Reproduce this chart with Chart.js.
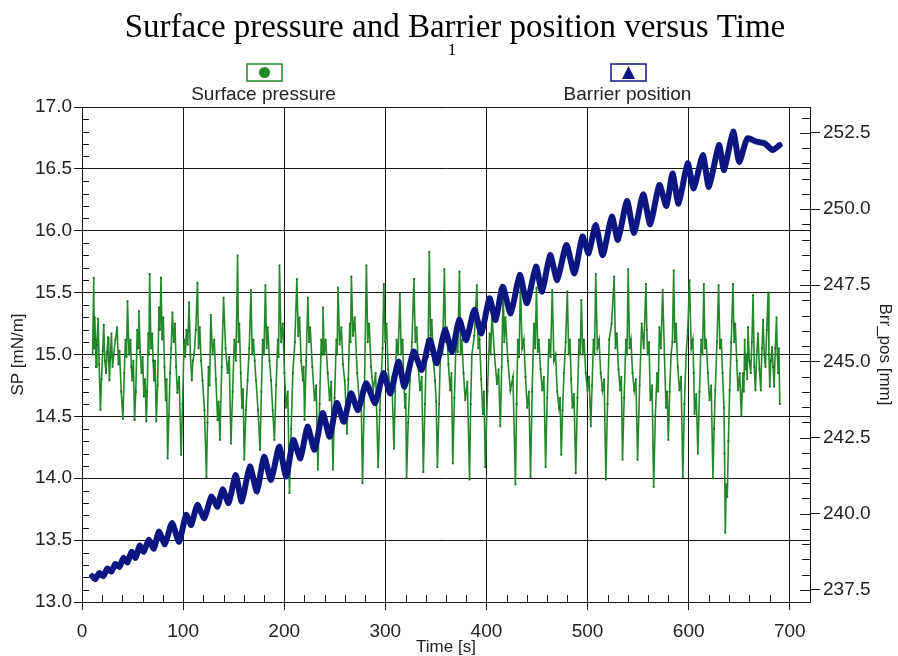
<!DOCTYPE html>
<html>
<head>
<meta charset="utf-8">
<title>Surface pressure and Barrier position versus Time</title>
<script src="https://cdn.jsdelivr.net/npm/chart.js@4.4.1/dist/chart.umd.min.js"></script>
<style>
  html, body { margin: 0; padding: 0; background: #fff; }
  canvas { display: block; }
</style>
</head>
<body>
<canvas id="chart" width="898" height="656"></canvas>
<script>
// texts
const titleText = 'Surface pressure and Barrier position versus Time';
const subtitleText = '1';
const spLabel = 'Surface pressure';
const brrLabel = 'Barrier position';

// tick labels
const timeTicks = [0, 100, 200, 300, 400, 500, 600, 700];
const spTicks = [13.0, 13.5, 14.0, 14.5, 15.0, 15.5, 16.0, 16.5, 17.0];
const brrTicks = [237.5, 240.0, 242.5, 245.0, 247.5, 250.0, 252.5];

// surface pressure [mN/m]
const spTime = [
  10.5, 11.6, 12.1, 12.6, 13.3, 13.9, 14.8, 15.9, 17.0, 18.2,
  19.3, 20.5, 21.5, 22.6, 23.8, 24.8, 25.8, 26.5, 27.1, 28.1,
  29.1, 30.2, 31.4, 33.0, 34.8, 36.0, 37.1, 38.8, 40.4, 41.8,
  43.0, 44.0, 45.0, 46.5, 48.0, 48.8, 49.7, 50.8, 52.0, 53.2,
  54.6, 55.4, 56.3, 57.6, 58.9, 60.0, 61.2, 62.4, 63.6, 64.5,
  65.5, 66.2, 66.9, 68.2, 69.5, 70.3, 71.2, 72.3, 73.5, 74.8,
  76.1, 77.1, 78.1, 79.2, 80.4, 81.6, 82.8, 83.7, 84.7, 85.9,
  87.1, 88.2, 89.4, 90.7, 92.0, 93.1, 94.3, 96.1, 98.0, 99.5,
  101.0, 102.1, 103.3, 104.6, 105.9, 107.2, 108.6, 109.7, 110.9, 112.5,
  114.2, 115.3, 116.5, 117.8, 119.2, 121.1, 123.1, 124.1, 125.1, 126.2,
  127.4, 129.1, 130.8, 132.4, 134.1, 135.2, 136.4,
  138.2, 140.0, 142.0, 144.0, 145.6, 147.3, 149.0, 150.6, 152.2, 153.9,
  154.8, 155.6, 157.0, 158.2, 159.3, 160.5, 162.1, 163.8, 165.4, 167.1,
  168.3, 169.5, 170.8, 172.1, 174.1, 176.1, 177.4, 178.7, 180.0, 181.4,
  182.6, 183.7, 185.4, 187.0, 188.6, 190.3, 192.0, 193.6, 194.4, 195.3,
  196.9, 198.6, 200.2, 201.9, 203.5, 205.2, 206.9, 208.5, 210.5, 212.5,
  213.8, 215.1, 216.8, 218.4, 219.2, 220.1, 221.7, 223.4, 224.5, 225.7,
  227.8, 230.0, 231.6, 233.3, 235.0, 236.6, 237.4, 238.3, 239.6, 241.0,
  243.0, 244.9, 246.5, 248.2, 249.8, 251.5, 252.3, 253.2, 254.8, 256.5,
  258.1, 259.8, 260.9, 262.1, 263.4, 264.8, 265.6, 266.4, 268.0, 269.7,
  272.2, 274.7, 276.0, 277.4, 279.3,
  281.3, 282.6, 284.0, 285.9, 287.9, 290.4, 292.9, 294.5, 296.2, 297.3,
  298.5, 299.8, 301.2, 302.8, 304.5, 306.5, 308.5, 309.8, 311.1, 312.7,
  314.4, 315.7, 317.1, 318.2, 319.4, 320.2, 321.0, 322.6, 324.3, 326.3,
  328.3, 329.6, 331.0, 332.6, 334.3, 336.0, 337.6, 339.2, 340.9, 342.2,
  343.5, 344.7, 345.9, 347.5, 349.2, 350.3, 351.5, 353.2, 354.8, 356.6,
  358.4, 359.6, 360.8, 362.4, 364.1, 365.4, 366.7, 368.3, 370.0, 371.6,
  373.3, 374.4, 375.6, 377.3, 379.0, 381.1, 383.3, 384.4, 385.6, 388.0,
  390.5, 391.8, 393.2, 394.8, 396.5, 397.6, 398.8, 401.0, 403.1, 404.2,
  405.4, 407.9, 410.4, 412.0, 413.7, 415.1,
  416.5, 417.6, 418.8, 421.2, 423.7, 426.2, 428.7, 429.8, 431.0, 432.3,
  433.6, 435.3, 437.0, 438.6, 440.3, 442.0, 443.6, 445.2, 446.9, 448.2,
  449.5, 450.7, 451.9, 453.5, 455.2, 456.8, 458.5, 460.1, 461.8, 463.4,
  465.1, 466.7, 468.4, 470.0, 471.7, 472.8, 474.0, 475.3, 476.7, 478.3,
  480.0, 481.3, 482.6, 483.8, 485.0, 486.6, 488.3, 490.0, 491.6, 492.7,
  493.9, 495.2, 496.5, 498.2, 499.9, 501.5, 503.2, 504.5, 505.8, 506.9,
  508.1, 509.7, 511.4, 513.0, 514.7, 516.4, 518.1, 519.7, 521.4, 523.8,
  526.3, 527.6, 529.0, 530.6, 532.3, 533.4, 534.6, 536.2, 537.9, 539.0,
  540.2, 541.5, 542.9, 544.5, 546.2, 547.8, 549.5, 551.5, 553.5, 555.6,
  557.8, 558.6, 559.4, 560.8, 562.1, 563.8, 565.4, 567.0, 568.7, 569.9,
  571.0, 572.6, 574.3, 576.0, 577.6, 578.7, 579.9, 581.2, 582.6, 583.9,
  585.2, 586.3, 587.5, 589.2, 590.9, 592.5, 594.2, 595.8, 597.5, 599.1,
  600.8, 602.5, 604.1, 605.0, 605.8, 607.5, 609.1, 610.7, 612.4, 613.7,
  615.0, 616.1, 617.3, 619.0, 620.6, 622.3, 624.0, 625.1, 626.3, 628.0,
  629.6, 630.9, 632.2, 633.5, 634.9, 635.5, 636.2, 637.2, 638.2, 639.3,
  640.5, 642.1, 643.8, 645.0, 646.1, 647.5, 648.8, 650.5, 652.1, 653.7,
  654.6, 655.4, 656.2, 657.1, 657.9, 658.7, 660.0, 661.4, 662.5, 663.7,
  664.9, 666.0, 667.3, 668.6, 670.0, 671.3, 672.5, 673.6, 674.8, 675.9,
  677.2, 678.6, 679.4, 680.2, 681.3, 682.5, 683.5, 684.5, 685.7, 686.9,
  687.7, 688.5, 689.3, 690.1
];
const spValue = [
  15.00, 15.62, 15.05, 15.30, 15.12, 14.90, 15.08, 15.29, 14.92, 14.55,
  14.80, 15.03, 15.24, 14.95, 14.85, 15.02, 15.14, 14.95, 14.79, 14.98,
  15.17, 14.90, 15.00, 15.12, 15.22, 14.92, 15.03, 14.70, 14.48, 14.85,
  15.12, 14.98, 15.43, 15.00, 15.12, 14.90, 14.79, 14.95, 14.47, 14.70,
  15.20, 15.05, 15.35, 15.02, 14.85, 14.98, 14.66, 14.80, 14.46, 14.70,
  15.17, 15.00, 15.65, 15.05, 15.17, 14.95, 14.79, 14.95, 14.46, 14.75,
  15.38, 15.20, 15.62, 15.12, 15.30, 14.90, 14.63, 14.80, 14.16, 14.50,
  14.85, 15.05, 15.34, 15.10, 15.25, 14.90, 14.69, 14.82, 14.19, 14.60,
  15.12, 14.98, 15.20, 15.08, 15.42, 15.00, 14.79, 14.95, 15.00, 15.20,
  15.58, 15.05, 15.22, 14.95, 14.79, 14.55, 14.01, 14.45, 14.90, 14.75,
  15.32, 15.00, 15.12, 14.80, 14.47, 14.62, 14.31,
  14.90, 15.46, 15.05, 14.85, 14.98, 14.28, 14.70, 15.12, 14.95, 15.80,
  15.10, 15.25, 14.85, 14.57, 14.72, 14.15, 14.55, 14.79, 15.05, 15.52,
  15.00, 15.12, 14.95, 14.79, 14.55, 14.23, 14.70, 15.12, 15.00, 15.56,
  15.05, 15.22, 14.95, 14.79, 14.55, 14.31, 14.75, 15.12, 14.98, 15.72,
  15.10, 15.25, 14.85, 14.57, 14.70, 13.88, 14.40, 14.85, 15.10, 15.61,
  15.15, 15.30, 14.95, 14.79, 14.90, 14.47, 14.95, 15.46, 15.10, 15.22,
  14.90, 14.63, 14.75, 14.07, 14.60, 15.12, 15.00, 15.38, 15.00, 15.12,
  14.85, 14.63, 14.78, 14.07, 14.65, 15.12, 15.00, 15.54, 15.08, 15.22,
  14.92, 14.79, 14.62, 14.36, 14.80, 15.25, 15.10, 15.63, 15.15, 15.30,
  14.85, 14.57, 14.70, 13.96, 14.70,
  15.72, 15.10, 15.25, 14.90, 14.71, 14.85, 14.09, 14.55, 14.85, 15.05,
  15.57, 15.10, 15.25, 14.88, 14.71, 14.80, 14.24, 14.70, 15.12, 15.00,
  15.49, 15.00, 15.12, 14.80, 14.57, 14.68, 14.00, 14.45, 14.79, 15.10,
  15.61, 15.10, 15.22, 14.90, 14.71, 14.82, 14.05, 14.60, 15.12, 14.98,
  15.83, 15.15, 15.28, 14.95, 14.79, 14.62, 14.09, 14.60, 15.12, 15.00,
  15.69, 15.10, 15.22, 14.92, 14.71, 14.85, 14.12, 14.65, 15.12, 15.02,
  15.67, 15.00, 15.12, 14.85, 14.63, 14.78, 13.99, 14.60, 15.00, 15.15,
  15.56, 15.05, 15.12, 14.80, 14.52, 14.70, 14.09, 14.70, 15.17, 15.00,
  15.34, 15.00, 14.76, 14.88, 14.42, 14.90,
  15.55, 15.10, 15.30, 14.95, 14.71, 14.82, 13.95, 14.60, 15.12, 14.98,
  15.57, 15.05, 15.12, 14.82, 14.57, 14.70, 14.01, 14.70, 15.25, 15.05,
  15.54, 15.02, 15.12, 14.88, 14.71, 14.82, 14.09, 14.65, 15.12, 14.98,
  15.52, 14.95, 15.00, 14.70, 14.57, 14.65, 14.19, 14.55, 14.85, 15.10,
  15.51, 15.00, 15.12, 14.80, 14.57, 14.68, 14.04, 14.65, 15.12, 15.00,
  15.44, 15.00, 15.12, 14.85, 14.71, 14.82, 14.42, 14.75, 15.12, 15.00,
  15.65, 15.05, 15.12, 14.85, 14.71, 14.80, 13.99, 14.60, 15.12, 15.25,
  15.63, 15.05, 15.17, 14.88, 14.71, 14.82, 14.15, 14.65, 15.12, 15.00,
  15.69, 15.05, 15.12, 14.85, 14.71, 14.80, 14.15, 14.75, 15.25, 15.05,
  15.57, 15.20, 15.00, 15.10, 14.63, 14.75, 13.93, 14.50, 14.85, 14.70,
  15.22, 15.05, 15.52, 15.00, 14.57, 14.70, 14.31, 14.70, 15.00, 15.10,
  15.68, 15.10, 15.25, 14.90, 14.71, 14.82, 14.01, 14.60, 15.00, 15.20,
  15.60, 15.05, 15.12, 14.85, 14.52, 14.68, 14.20, 14.70, 15.12, 15.00,
  15.57, 15.05, 15.12, 14.85, 14.63, 14.75, 14.00, 14.40, 14.71, 15.10,
  15.56, 15.05, 15.12, 14.85, 14.57, 14.20, 13.56, 13.95, 13.85, 14.30,
  14.71, 15.10, 15.57, 15.10, 15.25, 14.95, 14.71, 14.85, 14.50, 14.85,
  14.70, 15.12, 14.88, 15.00, 14.80, 15.22, 14.95, 14.85, 15.10, 15.48,
  14.90, 14.71, 15.00, 15.17, 14.88, 14.71, 15.05, 15.28, 15.00, 14.90,
  15.20, 15.50, 15.00, 14.74, 14.95, 15.06, 14.90, 14.74, 15.05, 15.30,
  15.00, 14.85, 15.05, 14.60
];

// barrier position [mm]
const brrTime = [
  10, 13, 17, 21, 25, 29, 33, 37, 41, 45, 49, 53, 57, 61, 66, 71, 76, 82, 89, 96,
  103, 108, 114, 121, 128, 134, 139, 145, 152, 158, 166, 173, 180, 187, 195, 202, 209, 216, 223, 230,
  238, 245, 252, 259, 266, 273, 281, 290, 298, 305, 313, 319, 328, 336, 344, 351, 359, 366, 373, 380,
  388, 395, 403, 409, 416, 424, 433, 440, 449, 455, 463, 470, 479, 487, 495, 501, 508, 515, 524, 530,
  539, 546, 555, 562, 571, 578, 584, 590, 599, 605, 614, 620, 630, 635, 644, 650, 658, 667, 675, 683, 690
];
const brrValue = [
  237.95, 237.85, 238.05, 237.95, 238.20, 238.10, 238.35, 238.25, 238.55, 238.40, 238.75, 238.55, 238.95, 238.75, 239.14, 238.85, 239.41, 239.00, 239.69, 239.08,
  239.96, 239.63, 240.29, 239.85, 240.56, 240.23, 240.80, 240.35, 241.27, 240.40, 241.55, 240.73, 241.87, 241.11, 242.20, 241.22, 242.42, 241.82, 242.86, 242.10,
  243.30, 242.53, 243.63, 243.02, 243.95, 243.40, 244.28, 243.63, 244.61, 243.95, 244.99, 244.17, 245.32, 244.72, 245.70, 244.94, 246.03, 245.32, 246.36, 245.70,
  246.69, 245.92, 247.07, 246.36, 247.45, 246.58, 247.84, 246.91, 248.11, 247.29, 248.49, 247.67, 248.82, 247.89, 249.10, 248.55, 249.48, 248.49, 249.75, 248.99,
  250.26, 249.22, 250.48, 249.50, 250.79, 250.10, 251.17, 250.18, 251.50, 250.68, 251.77, 250.73, 252.10, 251.28, 252.54, 251.55, 252.32, 252.21, 252.16, 251.94, 252.10
];

const spColor = '#23882a';
const spPointColor = '#1a6b1f';
const brrColor = '#0d1680';
const axisColor = '#151515';
const labelColor = '#222';
const sansFont = '"Liberation Sans", Arial, sans-serif';
const serifFont = '"Liberation Serif", "Times New Roman", serif';

// title, run number and the boxed legend above the plot
const headerPlugin = {
  id: 'header',
  afterDraw(chart) {
    const ctx = chart.ctx;
    ctx.save();
    ctx.fillStyle = '#000';
    ctx.textAlign = 'center';
    ctx.textBaseline = 'middle';
    ctx.font = '33px ' + serifFont;
    ctx.fillText(titleText, 455, 28);
    ctx.font = '17px ' + serifFont;
    ctx.fillText(subtitleText, 452, 51);

    const items = [
      { label: spLabel, color: spColor, marker: 'circle', cx: 264.5 },
      { label: brrLabel, color: brrColor, marker: 'triangle', cx: 628.5 }
    ];
    items.forEach(item => {
      ctx.strokeStyle = item.color;
      ctx.lineWidth = 1.5;
      ctx.strokeRect(item.cx - 17.5, 64, 35, 17);
      ctx.fillStyle = item.color;
      ctx.beginPath();
      if (item.marker === 'circle') {
        ctx.arc(item.cx, 72.5, 5.5, 0, Math.PI * 2);
      } else {
        ctx.moveTo(item.cx, 66);
        ctx.lineTo(item.cx + 6.5, 79);
        ctx.lineTo(item.cx - 6.5, 79);
        ctx.closePath();
      }
      ctx.fill();
      ctx.fillStyle = labelColor;
      ctx.font = '19px ' + sansFont;
      ctx.fillText(item.label, item.cx - 1, 95);
    });
    ctx.restore();
  }
};

// small inward ticks between the labelled ones
const minorTickPlugin = {
  id: 'minorTicks',
  afterDraw(chart) {
    const { ctx, chartArea: a, scales } = chart;
    ctx.save();
    ctx.strokeStyle = axisColor;
    ctx.lineWidth = 1;
    ctx.beginPath();
    for (let v = 20; v < scales.x.max; v += 20) {
      if (v % 100 === 0) continue;
      const px = Math.round(scales.x.getPixelForValue(v)) + 0.5;
      ctx.moveTo(px, a.bottom);
      ctx.lineTo(px, a.bottom - 7);
    }
    for (let i = 131; i < 170; i++) {
      if (i % 5 === 0) continue;
      const py = Math.round(scales.y.getPixelForValue(i / 10)) + 0.5;
      ctx.moveTo(a.left, py);
      ctx.lineTo(a.left + 7, py);
    }
    for (let i = 475; i / 2 <= scales.y1.max; i++) {
      const py = Math.round(scales.y1.getPixelForValue(i / 2)) + 0.5;
      ctx.moveTo(a.right, py);
      ctx.lineTo(a.right - (i % 5 === 0 ? 10 : 8), py);
    }
    ctx.stroke();
    ctx.restore();
  }
};

function toPoints(xs, ys) {
  return xs.map((x, i) => ({ x: x, y: ys[i] }));
}

function drawChart() {
  const ctx = document.getElementById('chart').getContext('2d');
  const tickFont = { family: sansFont, size: 19 };
  const titleFont = { family: sansFont, size: 17 };

  new Chart(ctx, {
    type: 'line',
    data: {
      datasets: [
        {
          label: brrLabel,
          data: toPoints(brrTime, brrValue),
          yAxisID: 'y1',
          borderColor: brrColor,
          backgroundColor: brrColor,
          borderWidth: 6,
          borderJoinStyle: 'round',
          borderCapStyle: 'round',
          pointRadius: 0,
          tension: 0.2,
          order: 0
        },
        {
          label: spLabel,
          data: toPoints(spTime, spValue),
          yAxisID: 'y',
          borderColor: spColor,
          backgroundColor: spPointColor,
          borderWidth: 1.6,
          pointRadius: 1.3,
          pointStyle: 'rect',
          pointBorderWidth: 0,
          tension: 0,
          order: 1
        }
      ]
    },
    options: {
      responsive: false,
      animation: false,
      events: [],
      layout: { padding: { top: 107, left: 0, right: 0, bottom: 0 } },
      plugins: {
        legend: { display: false },
        tooltip: { enabled: false }
      },
      scales: {
        x: {
          type: 'linear',
          position: 'bottom',
          min: 0,
          max: 720,
          afterBuildTicks: scale => { scale.ticks = timeTicks.map(v => ({ value: v })); },
          afterFit: scale => { scale.height = 54; },
          border: { color: axisColor, width: 1 },
          grid: { color: axisColor, tickColor: axisColor, tickLength: 8, lineWidth: 1 },
          ticks: { font: tickFont, color: labelColor, padding: 10, maxRotation: 0 },
          title: { display: true, text: 'Time [s]', font: { family: sansFont, size: 17, lineHeight: 1.0 }, color: labelColor, padding: { top: 0, bottom: 0 } }
        },
        y: {
          position: 'left',
          min: 13,
          max: 17,
          afterBuildTicks: scale => { scale.ticks = spTicks.map(v => ({ value: v })); },
          afterFit: scale => { scale.width = 82; },
          border: { color: axisColor, width: 1 },
          grid: { color: axisColor, tickColor: axisColor, tickLength: 8, lineWidth: 1 },
          ticks: { font: tickFont, color: labelColor, padding: 2, callback: v => v.toFixed(1) },
          title: { display: true, text: 'SP [mN/m]', font: titleFont, color: labelColor, padding: { top: 8, bottom: 0 } }
        },
        y1: {
          position: 'right',
          min: 237.1,
          max: 253.35,
          afterBuildTicks: scale => { scale.ticks = brrTicks.map(v => ({ value: v })); },
          afterFit: scale => { scale.width = 88; },
          border: { color: axisColor, width: 1 },
          grid: { drawOnChartArea: false, tickColor: axisColor, tickLength: 10 },
          ticks: { font: tickFont, color: labelColor, padding: 3, callback: v => v.toFixed(1) },
          title: { display: true, text: 'Brr_pos [mm]', font: titleFont, color: labelColor, padding: { top: 3, bottom: 0 } }
        }
      }
    },
    plugins: [headerPlugin, minorTickPlugin]
  });
}

drawChart();
</script>
</body>
</html>
